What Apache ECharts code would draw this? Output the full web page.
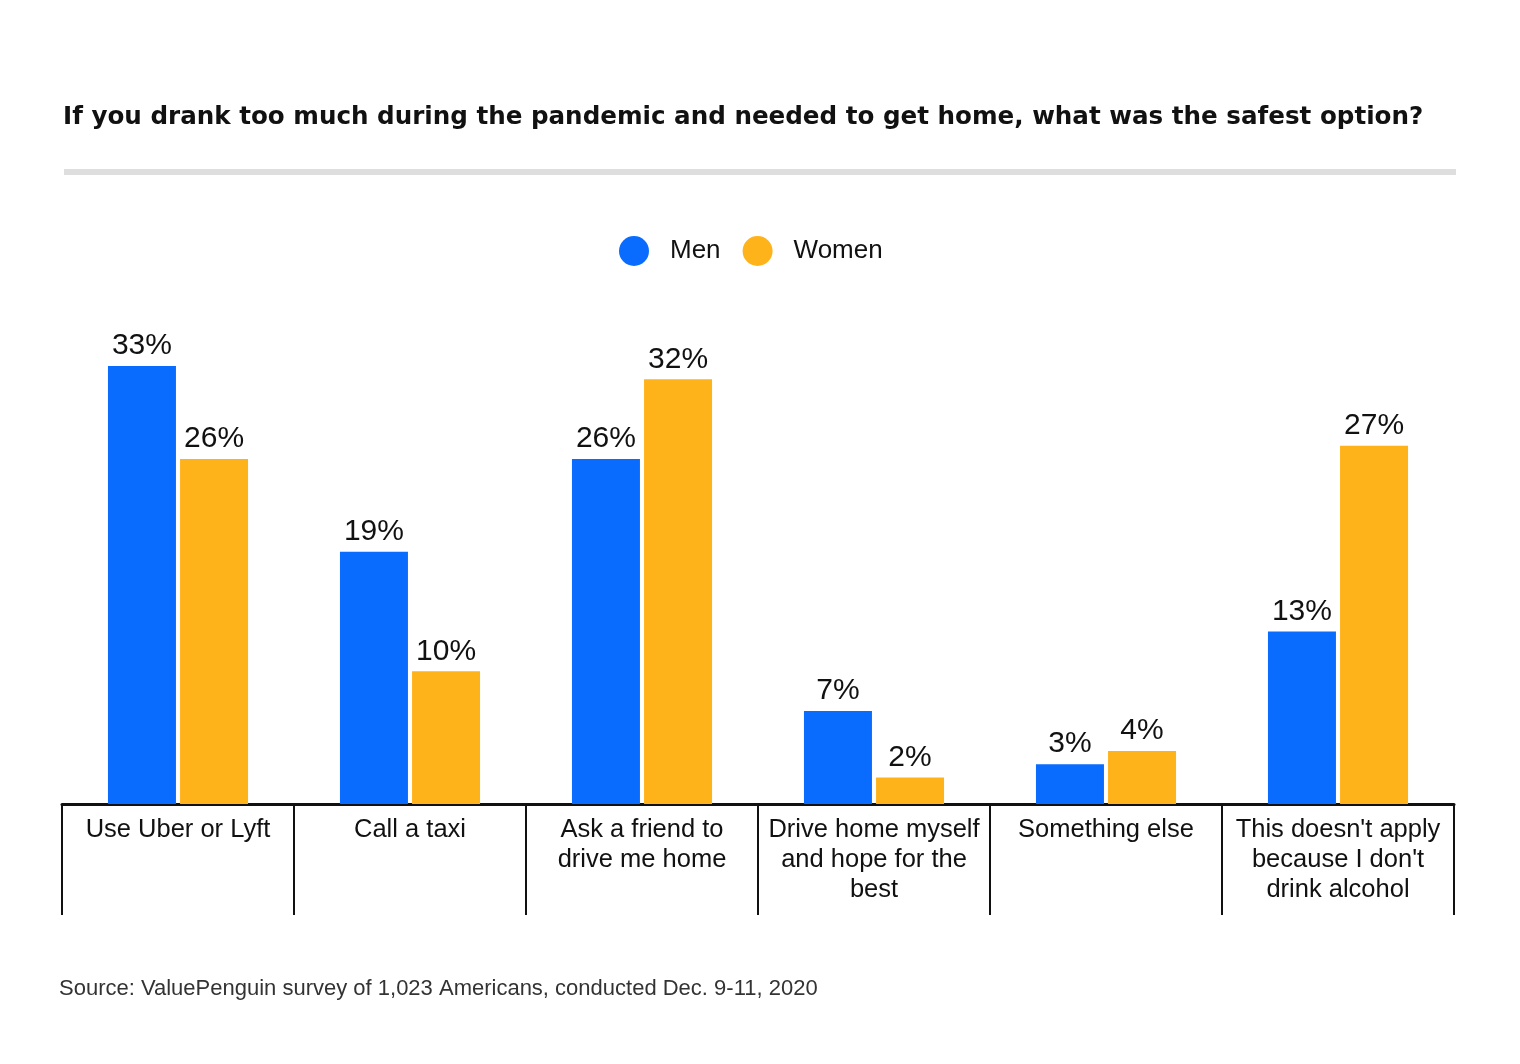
<!DOCTYPE html>
<html lang="en">
<head>
	<meta charset="UTF-8">
	<title>Safest option to get home</title>
	<script src="https://cdn.jsdelivr.net/npm/echarts@6/dist/echarts.min.js"></script>
	<style>
		html, body { margin: 0; padding: 0; background: #fff; }
	</style>
</head>
<body>
	<div id="main" style="width: 1520px;height:1064px;"></div>
	<script type="text/javascript">

		// categories and values (percent)
		var categories = [
			'Use Uber or Lyft',
			'Call a taxi',
			'Ask a friend to\ndrive me home',
			'Drive home myself\nand hope for the\nbest',
			'Something else',
			'This doesn\'t apply\nbecause I don\'t\ndrink alcohol'
		];
		var men = [33, 19, 26, 7, 3, 13];
		var women = [26, 10, 32, 2, 4, 27];

		var blue = '#0a6cff';
		var yellow = '#ffb31a';
		var bodyFont = 'Liberation Sans';

		var myChart = echarts.init(document.getElementById('main'));

		var labelStyle = {
			show: true,
			position: 'top',
			distance: 5,
			color: '#111',
			fontSize: 30,
			fontFamily: bodyFont,
			formatter: '{c}%'
		};

		var option = {
			backgroundColor: '#fff',
			animation: false,
			title: {
				text: 'If you drank too much during the pandemic and needed to get home, what was the safest option?',
				left: 58,
				top: 100,
				textStyle: {
					fontFamily: 'DejaVu Sans',
					fontWeight: 'bold',
					fontSize: 24.6,
					color: '#111'
				}
			},
			legend: {
				left: 614,
				top: 231,
				icon: 'circle',
				itemWidth: 30,
				itemHeight: 30,
				itemGap: 22,
				textStyle: {
					fontFamily: bodyFont,
					fontSize: 26,
					color: '#111',
					padding: [0, 0, 0, 16]
				},
				data: ['Men', 'Women']
			},
			graphic: [
				{
					type: 'rect',
					shape: { x: 64, y: 169, width: 1392, height: 6 },
					style: { fill: '#dedede' }
				},
				{
					type: 'text',
					left: 59,
					top: 978,
					style: {
						text: 'Source: ValuePenguin survey of 1,023 Americans, conducted Dec. 9-11, 2020',
						fontFamily: bodyFont,
						fontSize: 22,
						fill: '#333'
					}
				}
			],
			grid: {
				left: 62,
				right: 66,
				top: 366,
				bottom: 260,
				containLabel: false
			},
			xAxis: {
				type: 'category',
				data: categories,
				axisLine: { show: true, lineStyle: { color: '#111', width: 3 } },
				axisTick: {
					show: true,
					inside: false,
					length: 111,
					alignWithLabel: false,
					lineStyle: { color: '#111', width: 2 }
				},
				axisLabel: {
					interval: 0,
					margin: 11,
					color: '#111',
					fontFamily: bodyFont,
					fontSize: 25.5,
					lineHeight: 30,
					verticalAlign: 'top'
				}
			},
			yAxis: {
				type: 'value',
				min: 0,
				max: 33,
				show: false,
				splitLine: { show: false }
			},
			series: [
				{
					name: 'Men',
					type: 'bar',
					data: men,
					barWidth: 68,
					barGap: '6%',
					itemStyle: { color: blue },
					label: labelStyle
				},
				{
					name: 'Women',
					type: 'bar',
					data: women,
					barWidth: 68,
					itemStyle: { color: yellow },
					label: labelStyle
				}
			]
		};
		myChart.setOption(option);
	</script>
</body>
</html>
